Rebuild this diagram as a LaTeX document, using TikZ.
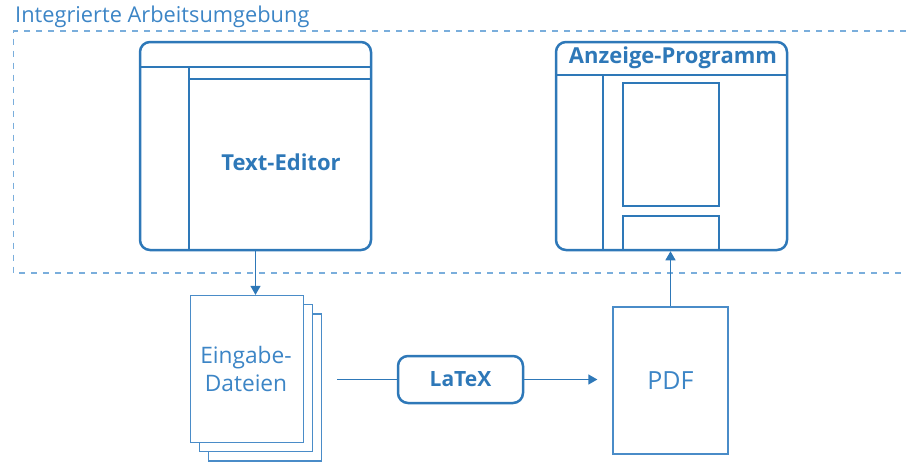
\documentclass[tikz,border=0pt]{standalone}
\usepackage{fontspec}
\setmainfont{Open Sans}
\usetikzlibrary{arrows.meta}
\definecolor{mainblue}{HTML}{2E78B8}
\definecolor{textblue}{HTML}{3C85C6}
\definecolor{dashblue}{HTML}{7AAEDC}
\definecolor{docblue}{HTML}{4A8CC8}
\tikzset{
  win/.style={draw=mainblue, line width=2.5pt, rounded corners=10pt, minimum width=231pt, minimum height=208pt, inner sep=0pt},
  inner/.style={draw=mainblue, line width=1.4pt},
  doc/.style={draw=docblue, line width=1.3pt, fill=white, minimum width=113pt, minimum height=147pt, inner sep=0pt},
  conn/.style={draw=mainblue, line width=1.3pt},
  tip/.style={-{Triangle[length=9pt,width=10pt]}},
  boldlbl/.style={text=mainblue, font=\bfseries\fontsize{22}{24}\selectfont},
  lightlbl/.style={text=textblue, font=\fontsize{22.7}{28}\selectfont, align=center},
}
\begin{document}
\begin{tikzpicture}[x=1pt,y=-1pt]
\useasboundingbox (0,0) rectangle (906,463);
% frame
\draw[dashblue, line width=1.4pt, dash pattern=on 6pt off 6pt] (906,31) -- (13.5,31) -- (13.5,273) -- (906,273);
\node[anchor=base west, inner sep=0pt, text=textblue, font=\fontsize{21.8}{24}\selectfont] (title) at (15,23) {Integrierte Arbeitsumgebung};
% text editor
\node[win] (te) at (255.5,146) {};
\draw[inner] (140,67) -- (371,67);
\draw[inner] (189,67) -- (189,250);
\draw[inner] (189,79) -- (371,79);
\node[boldlbl] (telbl) at (281,162) {Text-Editor};
% viewer
\node[win] (anz) at (671.5,146) {};
\draw[inner] (556,75) -- (787,75);
\draw[inner] (603,75) -- (603,250);
\node[inner, minimum width=96pt, minimum height=123pt, inner sep=0pt] (page) at (671,144.5) {};
\draw[inner] (623,250) -- (623,216) -- (719,216) -- (719,250);
\node[boldlbl] (anzlbl) at (673,58) {Anzeige-Programm};
% input files
\node[doc] (d3) at (265,387.5) {};
\node[doc] (d2) at (256,378) {};
\node[doc] (eing) at (247,369) {};
\node[lightlbl] (einglbl) at (246,369) {Eingabe-\\Dateien};
% latex
\node[draw=mainblue, line width=2.5pt, rounded corners=10pt, minimum width=125pt, minimum height=47pt, inner sep=0pt, boldlbl, font=\bfseries\fontsize{21}{22}\selectfont] (latex) at (460.5,379.5) {LaTeX};
% pdf
\node[doc, minimum width=115pt, minimum height=147pt, lightlbl, font=\fontsize{25}{28}\selectfont] (pdf) at (670.5,380.5) {PDF};
\coordinate (in) at (337,379.5);
% connectors
\draw[conn, tip] (te.south) -- (te.south |- eing.north);
\draw[conn] (in) -- (latex.west);
\draw[conn, tip, shorten >=15pt] (latex.east) -- (latex.east -| pdf.west);
\draw[conn, tip] (pdf.north) -- (pdf.north |- anz.south);
\end{tikzpicture}
\end{document}
